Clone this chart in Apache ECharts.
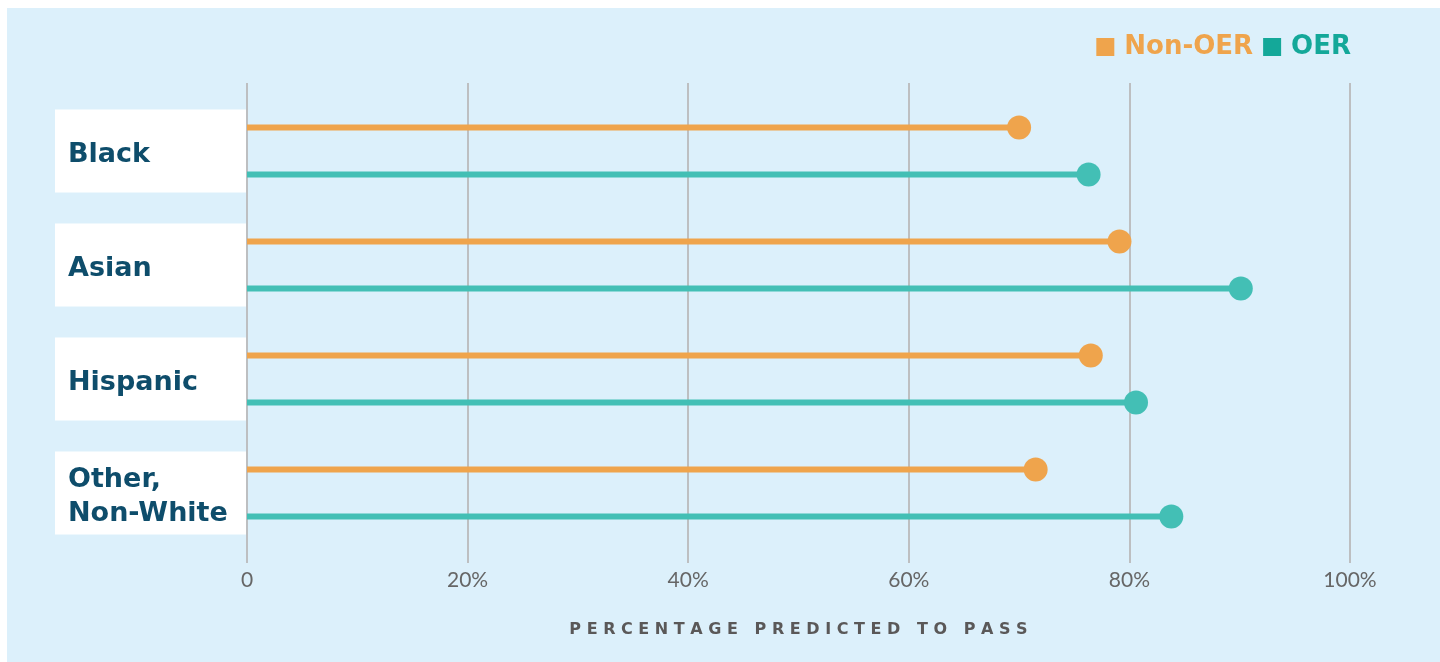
<!DOCTYPE html>
<html><head><meta charset="utf-8">
<script src="https://cdn.jsdelivr.net/npm/echarts@6/dist/echarts.min.js"></script>
<style>html,body{margin:0;padding:0;background:#fff;}#c{width:1440px;height:662px;}</style>
</head><body><div id="c"></div>
<script>
const categories = ['Black', 'Asian', 'Hispanic', 'Other,\nNon-White'];
const nonOER = [70.0, 79.1, 76.5, 71.5];
const oer = [76.3, 90.1, 80.6, 83.8];
const tickValues = [0, 20, 40, 60, 80, 100];
const seriesNames = ['Non-OER', 'OER'];
const axisTitle = 'PERCENTAGE PREDICTED TO PASS';

const ORANGE = '#EFA44C', TEAL = '#43BFB5', TEAL_DARK = '#14A899';
const spaced = axisTitle.split(' ').map(w => w.split('').join(' ')).join('   ');

const chart = echarts.init(document.getElementById('c'), null, {renderer: 'canvas'});
chart.setOption({
  animation: false,
  backgroundColor: '#fff',
  graphic: [{type: 'rect', z: -10, shape: {x: 7, y: 8, width: 1433, height: 654}, style: {fill: '#DCF0FB'}}],
  legend: {
    right: 84, top: 29, itemWidth: 18, itemHeight: 18, itemGap: 10, icon: 'rect',
    textStyle: {fontFamily: 'DejaVu Sans', fontWeight: 'bold', fontSize: 26, padding: [0, 0, 0, 5]},
    data: [
      {name: seriesNames[0], itemStyle: {color: ORANGE}, textStyle: {color: ORANGE}},
      {name: seriesNames[1], itemStyle: {color: TEAL_DARK}, textStyle: {color: TEAL_DARK}}
    ]
  },
  grid: {left: 247, right: 90, top: 94, bottom: 112, containLabel: false, outerBoundsMode: 'none'},
  xAxis: [{
    type: 'value', min: 0, max: 100, interval: 20,
    axisLine: {show: false},
    axisTick: {show: true, length: 13, lineStyle: {color: '#BDBFC1', width: 2}},
    splitLine: {show: true, lineStyle: {color: '#BDBFC1', width: 2}},
    axisLabel: {margin: 20, fontFamily: 'Lato', fontSize: 21, color: '#666',
      formatter: v => v === 0 ? '0' : v + '%'},
    name: spaced, nameLocation: 'middle', nameGap: 72,
    nameTextStyle: {fontFamily: 'DejaVu Sans', fontWeight: 'bold', fontSize: 16, color: '#5A5858'}
  }, {
    type: 'value', position: 'top', min: 0, max: 100, interval: 20,
    axisLine: {show: false}, axisLabel: {show: false}, splitLine: {show: false},
    axisTick: {show: true, length: 11, lineStyle: {color: '#BDBFC1', width: 2}}
  }],
  yAxis: {
    type: 'category', inverse: true,
    data: categories.map(c => ({value: c, textStyle: {padding: c.indexOf('\n') >= 0 ? [11, 0, 4, 13] : [28, 0, 21, 13]}})),
    axisLine: {show: false}, axisTick: {show: false}, splitLine: {show: false},
    axisLabel: {
      margin: 1, backgroundColor: '#fff',
      formatter: v => v.split('\n').map(l => '{t|' + l + '}').join('\n'),
      rich: {t: {width: 178, align: 'left', fontFamily: 'DejaVu Sans', fontWeight: 'bold', fontSize: 27, color: '#0E4D6B', lineHeight: 34}}
    }
  },
  series: [
    {name: seriesNames[0], type: 'bar', data: nonOER, barWidth: 6, barGap: '683%', itemStyle: {color: ORANGE}, z: 2},
    {name: seriesNames[1], type: 'bar', data: oer, barWidth: 6, barGap: '683%', itemStyle: {color: TEAL}, z: 2},
    {name: seriesNames[0], type: 'scatter', data: nonOER, symbol: 'circle', symbolSize: 24, symbolOffset: [0, -23.5], itemStyle: {color: ORANGE, opacity: 1}, z: 3},
    {name: seriesNames[1], type: 'scatter', data: oer, symbol: 'circle', symbolSize: 24, symbolOffset: [0, 23.5], itemStyle: {color: TEAL, opacity: 1}, z: 3}
  ]
});
</script></body></html>
